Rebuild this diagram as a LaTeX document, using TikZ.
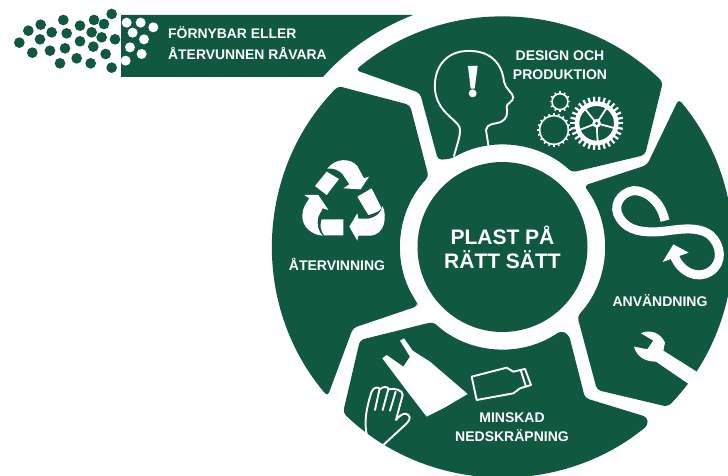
\documentclass[tikz,border=0pt]{standalone}
\usepackage{fontspec}
\setmainfont{Liberation Sans}
\usetikzlibrary{shapes.geometric}
\definecolor{dk}{HTML}{10583F}
\tikzset{
  seg/.style={fill=dk,rounded corners=4pt},
  lab/.style={text=white,font=\bfseries\fontsize{14}{19.5}\selectfont,align=center,inner sep=0pt},
  icon/.style={draw=white,line width=1.9pt,line join=round,line cap=round},
  solidicon/.style={fill=white,line join=round},
  zoomA/.style={shift={(350,10)},x=0.3333pt,y=-0.3333pt},
  zoomB/.style={shift={(570,100)},x=0.3333pt,y=-0.3333pt},
  zoomC/.style={shift={(330,320)},x=0.3333pt,y=-0.3333pt},
  zoomD/.style={shift={(270,80)},x=0.3333pt,y=-0.3333pt},
  zoomE/.style={shift={(0,0)},x=0.3333pt,y=-0.3333pt},
}
\begin{document}
\begin{tikzpicture}[x=1pt,y=-1pt]
\useasboundingbox (0,0) rectangle (728,476);
\coordinate (C) at (502.5,247);
% banner
\fill[dk] (121,15) -- (413,15) .. controls (375,30) and (345,52) .. (323,77) -- (121,77) -- cycle;
% segments
\fill[seg] ([shift={(230.3:230)}]C) arc[start angle=230.3,end angle=314.2,radius=230]
  -- (645,155) -- ([shift={(-47:102)}]C) arc[start angle=-47,end angle=-120,radius=102] -- (438,160) -- (420,93) -- cycle;
\fill[seg] ([shift={(-40:230)}]C) arc[start angle=-40,end angle=44,radius=230]
  -- (597,390) -- ([shift={(42.8:102)}]C) arc[start angle=42.8,end angle=-37,radius=102] -- (647,165) -- cycle;
\fill[seg] ([shift={(50.7:230)}]C) arc[start angle=50.7,end angle=133.9,radius=230]
  -- (360,340) -- ([shift={(132.8:102)}]C) arc[start angle=132.8,end angle=55,radius=102] -- (569,335) -- (585,398) -- (647,417) -- cycle;
\fill[seg] ([shift={(139.5:230)}]C) arc[start angle=139.5,end angle=224.4,radius=230]
  -- (410,105) -- ([shift={(223.6:102)}]C) arc[start angle=223.6,end angle=147.2,radius=102] -- (418,306) -- (353,328) -- cycle;
% hub
\node[circle,fill=dk,minimum size=170,inner sep=0pt,text=white,align=center,
  font=\bfseries\fontsize{21}{24}\selectfont] (hub) at (C) {PLAST PÅ\\RÄTT SÄTT};
% labels
\node[lab,anchor=west,align=left,font=\bfseries\fontsize{13.9}{21}\selectfont] (source) at (168,43.5) {FÖRNYBAR ELLER\\ÅTERVUNNEN RÅVARA};
\node[lab] (design) at (560,65) {DESIGN OCH\\PRODUKTION};
\node[lab] (use) at (660,301) {ANVÄNDNING};
\node[lab] (litter) at (512,427) {MINSKAD\\NEDSKRÄPNING};
\node[lab] (recycle) at (337,264) {ÅTERVINNING};
% dots
\begin{scope}[zoomE]
\foreach \a/\b in {335/42,282/60,312/72,190/60,122/74,85/92,155/97,200/100,240/77,275/97,305/112,345/118,120/118,58/128,240/124,195/145,150/152,97/158,280/140,317/162,230/175,180/190,272/190,335/203}
  \fill[dk] (\a,\b) circle[radius=16];
\foreach \a/\b in {380/68,422/68,460/82,398/98,432/118,390/142,425/162,377/182}
  \fill[white] (\a,\b) circle[radius=15];
\end{scope}
% head and gears
\begin{scope}[zoomA]
\draw[icon] (312,438) .. controls (322,400) and (335,370) .. (328,350) .. controls (315,325) and (262,305) .. (255,240)
  .. controls (250,170) and (290,125) .. (350,123) .. controls (410,120) and (455,150) .. (462,215)
  .. controls (465,235) and (490,250) .. (490,262) .. controls (490,275) and (470,280) .. (470,290)
  .. controls (472,310) and (475,325) .. (450,337) .. controls (435,342) and (410,340) .. (408,360) -- (415,405);
\fill[white] (354,168) -- (383,168) -- (374,236) -- (362,236) -- cycle;
\fill[white] (368,250) circle[radius=12];
\foreach \cx/\cy/\r/\n in {630/275/24/12,612/360/43/20}{
  \draw[white,line width=1.6pt] (\cx,\cy) circle[radius=\r];
  \foreach \i in {1,...,\n}
    \draw[white,line width=1.5pt] (\cx,\cy) ++(\i*360/\n:\r) -- ++(\i*360/\n:7);
}
\fill[white,even odd rule] (740,340) circle[radius=66] (740,340) circle[radius=52];
\foreach \i in {1,...,30}
  \draw[white,line width=2.2pt] (740,340) ++(\i*12:62) -- ++(\i*12:18);
\foreach \i in {15,87,159,231,303}
  \draw[white,line width=1.8pt] (740,340) -- ++(\i:55);
\fill[white] (740,340) circle[radius=13];
\fill[dk] (740,340) circle[radius=5];
\end{scope}
% infinity and wrench
\begin{scope}[zoomB]
\draw[white,line width=9pt] (285,362) .. controls (270,295) and (220,270) .. (190,272)
  .. controls (150,278) and (125,320) .. (150,355) .. controls (175,395) and (225,398) .. (270,395)
  .. controls (320,390) and (380,375) .. (420,405) .. controls (455,435) and (460,490) .. (420,515)
  .. controls (380,540) and (330,515) .. (312,465);
\fill[white] (278,486) -- (310,433) -- (356,458) -- cycle;
\fill[solidicon] (213,700) .. controls (235,688) and (270,695) .. (285,728) -- (280,752) -- (380,815) -- (356,852)
  -- (258,785) .. controls (225,785) and (200,770) .. (192,740) -- (232,748) -- (250,722) -- cycle;
\end{scope}
% bag bottle hand
\begin{scope}[zoomC]
\fill[solidicon] (210,62) -- (222,55) -- (248,92) -- (300,125) -- (413,222) -- (340,265) -- (290,290) -- (240,225) -- (157,115) -- (170,105) -- (220,140) -- (240,110) -- cycle;
\draw[icon] (425,170) -- (530,143) -- (550,155) -- (585,147) -- (603,195) -- (570,205) -- (550,220) -- (440,240) -- cycle;
\draw[icon] (572,150) -- (588,200);
\draw[icon] (112,350) .. controls (100,310) and (110,260) .. (125,215) .. controls (130,200) and (148,200) .. (150,208)
  .. controls (158,198) and (175,200) .. (178,208) .. controls (190,203) and (220,210) .. (218,225) -- (198,300)
  .. controls (210,285) and (225,275) .. (235,285) .. controls (245,295) and (235,305) .. (225,315) -- (160,375);
\draw[icon] (148,210) -- (135,270);
\draw[icon] (175,208) -- (158,270);
\draw[icon] (197,215) -- (180,272);
\end{scope}
% recycling symbol
\begin{scope}[zoomD]
\fill[white] (135,318) -- (170,275) -- (207,297) -- (170,345) -- cycle;
\fill[white] (172,266) .. controls (195,235) and (240,232) .. (262,258) -- (282,295) -- (297,290) -- (272,328) -- (220,325) -- (238,313) -- (218,283) .. controls (208,270) and (190,264) .. (172,266) -- cycle;
\fill[white] (103,345) -- (145,345) -- (175,390) -- (158,385) -- (145,410) .. controls (140,435) and (145,455) .. (158,467)
  .. controls (125,465) and (95,440) .. (97,405) .. controls (98,385) and (105,375) .. (118,355) -- cycle;
\fill[white] (155,418) -- (220,418) -- (220,466) -- (162,466) .. controls (150,450) and (150,430) .. (155,418) -- cycle;
\fill[white] (262,350) -- (305,325) -- (335,385) .. controls (330,392) and (315,400) .. (295,405) -- cycle;
\fill[white] (338,378) .. controls (352,410) and (345,465) .. (300,467) -- (265,467) -- (262,482) -- (238,440) -- (262,400) -- (265,416) -- (295,416) .. controls (320,412) and (335,395) .. (338,378) -- cycle;
\end{scope}
\end{tikzpicture}
\end{document}
